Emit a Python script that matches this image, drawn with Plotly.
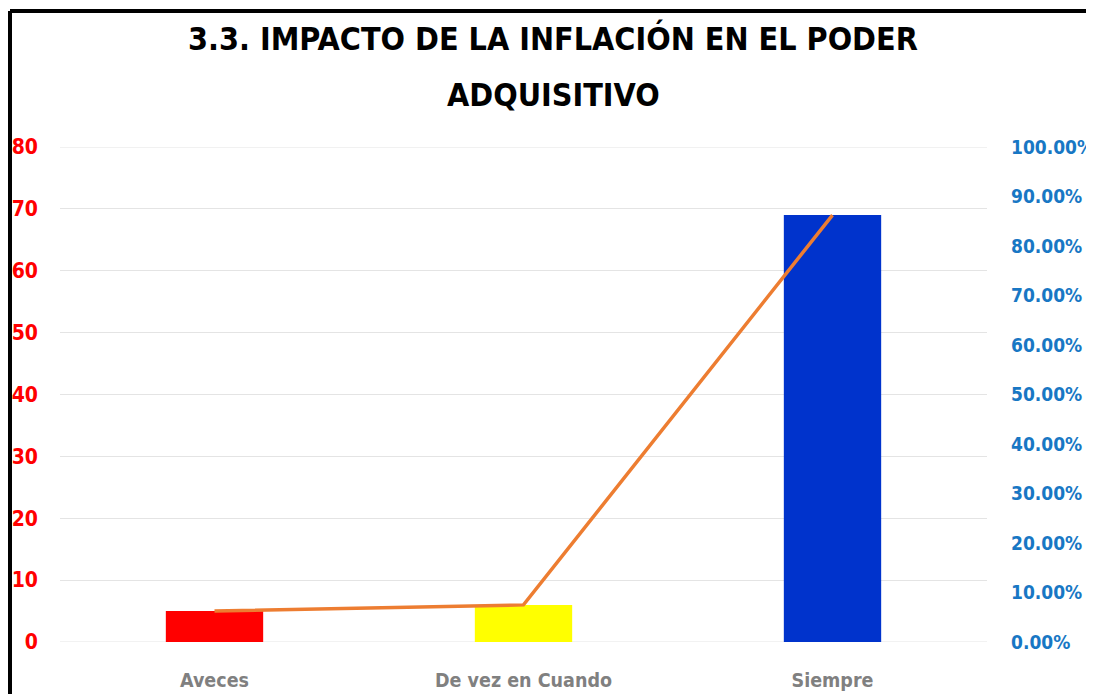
import plotly.graph_objects as go

categories = ["Aveces", "De vez en Cuando", "Siempre"]
counts = [5, 6, 69]
percentages = [6.25, 7.5, 86.25]
bar_colors = ["#FF0000", "#FFFF00", "#0033CC"]
left_ticks = [0, 10, 20, 30, 40, 50, 60, 70, 80]
right_ticks = [0, 10, 20, 30, 40, 50, 60, 70, 80, 90, 100]
title_lines = ["3.3. IMPACTO DE LA INFLACIÓN EN EL PODER", "ADQUISITIVO"]

FONT = "Liberation Sans Narrow, DejaVu Sans Condensed, Roboto, sans-serif"
# the page body has an 8px margin, so the figure is drawn 8px smaller and shifted
OFF = 8
W, H = 1094 - OFF, 694 - OFF
L, R, T, B = 60 - OFF, 107, 147 - OFF, 52
plot_w, plot_h = W - L - R, H - T - B


def px_x(px):
    return (px - OFF - L) / plot_w


def px_y(py):
    return (H - B - (py - OFF)) / plot_h


fig = go.Figure()
fig.add_trace(go.Bar(x=categories, y=counts, marker={"color": bar_colors, "line": {"width": 0}},
                     width=0.315, showlegend=False))
fig.add_trace(go.Scatter(x=categories, y=percentages, yaxis="y2", mode="lines",
                         line={"color": "#ED7D31", "width": 3.5}, showlegend=False))

fig.update_layout(
    width=W, height=H,
    margin={"l": L, "r": R, "t": T, "b": B, "autoexpand": False},
    paper_bgcolor="white", plot_bgcolor="white",
    font={"family": FONT},
    xaxis={"showgrid": False, "showline": False, "zeroline": False, "automargin": False,
           "tickfont": {"size": 19.5, "color": "#808080", "weight": "bold"},
           "ticklabelstandoff": 24},
    yaxis={"range": [0, 80], "tickvals": left_ticks, "showgrid": True, "gridcolor": "#E4E4E4",
           "gridwidth": 1, "zeroline": False, "showline": False, "automargin": False,
           "tickfont": {"size": 21, "color": "#FF0000", "weight": "bold"},
           "ticklabelstandoff": 21},
    yaxis2={"range": [0, 100], "tickvals": right_ticks, "overlaying": "y", "side": "right",
            "showgrid": False, "zeroline": False, "showline": False, "automargin": False,
            "ticktext": [f"{v:.2f}%" for v in right_ticks],
            "tickfont": {"size": 19, "color": "#1877C4", "weight": "bold"},
            "ticklabelstandoff": 23},
)

# edge gridlines (plotly skips the ones on the range ends)
for val in (left_ticks[0], left_ticks[-1]):
    fig.add_shape(type="line", xref="paper", yref="y", x0=0, x1=1, y0=val, y1=val,
                  line={"color": "#E4E4E4", "width": 1}, layer="below")

for line, py in zip(title_lines, [39, 95]):
    fig.add_annotation(text=line, x=px_x(553), y=px_y(py), xref="paper", yref="paper",
                       showarrow=False, xanchor="center", yanchor="middle",
                       font={"size": 32, "color": "black", "weight": "bold"})

# black frame along the top and left edge
fig.add_shape(type="line", xref="paper", yref="paper", x0=px_x(10), x1=px_x(1100),
              y0=px_y(11), y1=px_y(11), line={"color": "black", "width": 4})
fig.add_shape(type="line", xref="paper", yref="paper", x0=px_x(10), x1=px_x(10),
              y0=px_y(11), y1=px_y(700), line={"color": "black", "width": 4})

fig.write_html("out.html")
